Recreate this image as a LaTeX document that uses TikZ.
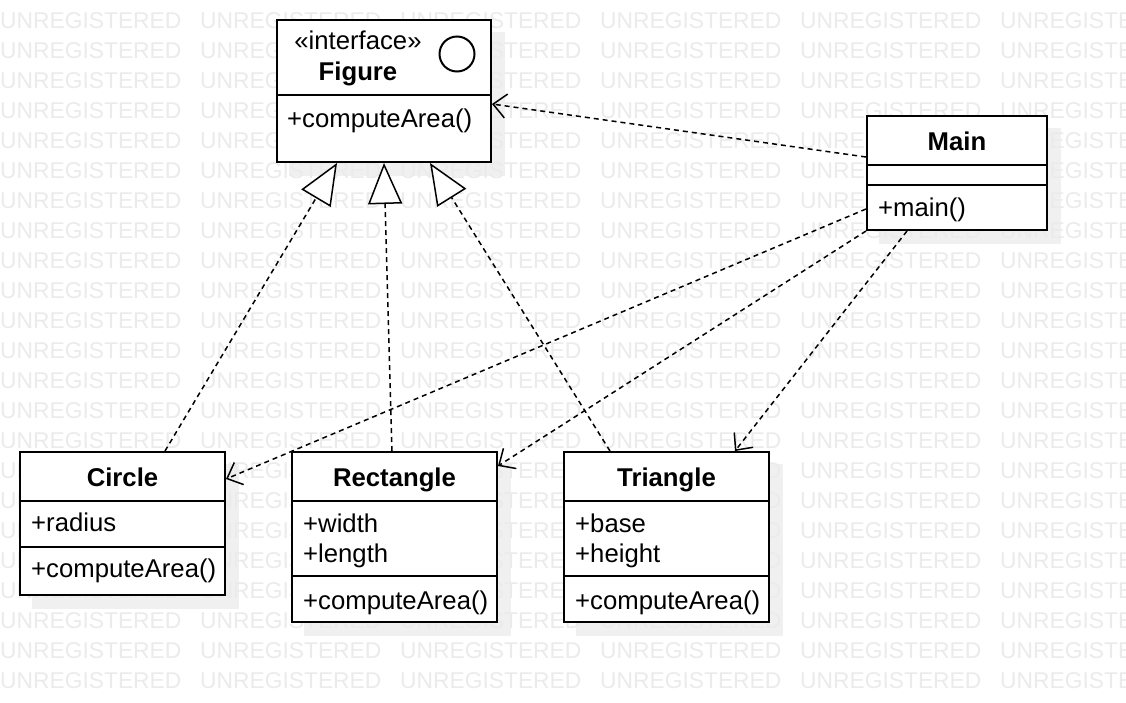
\documentclass[tikz,border=0pt]{standalone}
\usepackage{fontspec}
\setmainfont{Liberation Sans}
\usepackage{tikz}
\usetikzlibrary{arrows.meta, calc, positioning}
\pgfdeclarelayer{background}
\pgfsetlayers{background,main}

\begin{document}
\begin{tikzpicture}[x = 1pt, y = -1pt,
    classbox/.style = {draw, line width = 2pt, fill = white, inner sep = 0pt},
    member/.style = {anchor = west, inner sep = 0pt, text height = 18.4pt, text depth = 0pt,
                     font = \fontsize{25.7}{30}\selectfont},
    classname/.style = {member, anchor = center, font = \fontsize{25.7}{30}\selectfont\bfseries},
    watermark/.style = {anchor = west, inner sep = 0pt, text height = 16pt, text depth = 0pt,
                        text = black!8, font = \fontsize{22.8}{27}\selectfont},
    depend/.style = {line width = 1.5pt, dash pattern = on 5pt off 4pt,
                     -{Straight Barb[length = 13pt, width = 24pt]}},
    realize/.style = {line width = 1.5pt, dash pattern = on 5pt off 4pt,
                      -{Triangle[open, length = 41pt, width = 34pt, fill = white]}}]
    \useasboundingbox (0, 0) rectangle (1126, 702);

    % classes
    \node[classbox, minimum width = 214pt, minimum height = 142pt] (fig) at (384, 91) {};
    \node[classbox, minimum width = 180pt, minimum height = 114pt] (main) at (957, 173) {};
    \node[classbox, minimum width = 205pt, minimum height = 143pt] (circ) at (122.5, 523.5) {};
    \node[classbox, minimum width = 205pt, minimum height = 170pt] (rect) at (394.5, 537) {};
    \node[classbox, minimum width = 205pt, minimum height = 170pt] (tri) at (666.5, 537) {};
    \foreach \n/\d in {fig/76, main/50, main/70, circ/50, circ/96, rect/50, rect/125, tri/50, tri/125}
        \draw[line width = 2pt] ([yshift = -\d pt]\n.north west) -- ([yshift = -\d pt]\n.north east);

    \node[member, anchor = center] (fig-stereo) at (358, 40.5) {«interface»};
    \node[classname] (fig-name) at (358, 71) {Figure};
    \node[draw, circle, line width = 2pt, minimum size = 35pt, inner sep = 0pt] (fig-icon) at (457, 54) {};
    \node[member] (fig-op) at (287, 118) {+computeArea()};

    \node[classname] (main-name) at (957, 141) {Main};
    \node[member] (main-op) at (878, 207) {+main()};

    \node[classname] (circ-name) at (122.5, 477) {Circle};
    \node[member] (circ-attr) at (31, 522.5) {+radius};
    \node[member] (circ-op) at (31, 568.5) {+computeArea()};

    \node[classname] (rect-name) at (394.5, 477) {Rectangle};
    \node[member] (rect-attr1) at (303, 523) {+width};
    \node[member] (rect-attr2) at (303, 553) {+length};
    \node[member] (rect-op) at (303, 600) {+computeArea()};

    \node[classname] (tri-name) at (666.5, 477) {Triangle};
    \node[member] (tri-attr1) at (575, 523) {+base};
    \node[member] (tri-attr2) at (575, 553) {+height};
    \node[member] (tri-op) at (575, 600) {+computeArea()};

    % realizations
    \draw[realize] ([xshift = 146pt]circ.north west) -- ([xshift = 61pt]fig.south west);
    \draw[realize] ([xshift = 101pt]rect.north west) -- (fig.south);
    \draw[realize] ([xshift = 47pt]tri.north west) -- ([xshift = 46pt]fig.south);
    % dependencies
    \draw[depend] ([yshift = -42pt]main.north west) -- ([yshift = -85pt]fig.north east);
    \draw[depend] ([yshift = -94pt]main.north west) -- ([yshift = -28pt]circ.north east);
    \draw[depend] (main.south west) -- ([yshift = -15pt]rect.north east);
    \draw[depend] ([xshift = 41pt]main.south west) -- ([xshift = -35pt]tri.north east);

    \begin{pgfonlayer}{background}
        \fill[white] (0, 0) rectangle (1126, 702);
        \foreach \n in {fig, main, circ, rect, tri}
            \fill[black!6] ([shift = {(13pt, -13pt)}]\n.north west) rectangle ([shift = {(13pt, -13pt)}]\n.south east);
        \foreach \r in {0,...,22}
            \foreach \c in {0,...,5}
                \node[watermark] (wm-\r-\c) at (200*\c, 20+30*\r) {UNREGISTERED};
    \end{pgfonlayer}
\end{tikzpicture}
\end{document}
